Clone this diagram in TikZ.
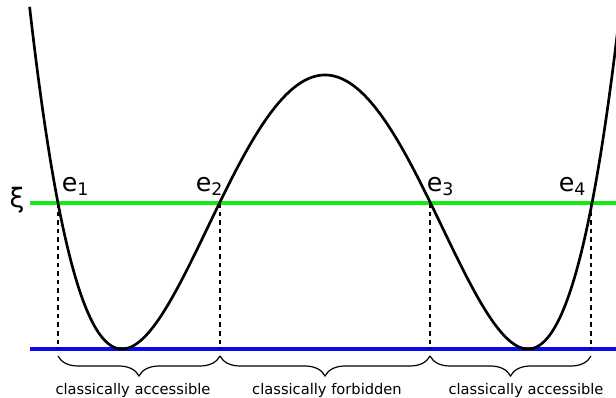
\documentclass[tikz,border=0pt]{standalone}
\usepackage{fontspec}
\setmainfont{DejaVu Sans}
\usetikzlibrary{decorations.pathreplacing}
\definecolor{lvlgreen}{RGB}{20,235,20}
\definecolor{lvlblue}{RGB}{10,10,240}
\begin{document}
\begin{tikzpicture}[x=0.75pt,y=0.75pt,
 curve/.style={line width=2pt, line join=round},
 level/.style={line width=2.4pt},
 drop/.style={line width=1.3pt, dash pattern=on 3.4pt off 3pt},
 brc/.style={decorate, decoration={brace, mirror, amplitude=15pt}, line width=0.9pt},
 lab/.style={font=\fontsize{11}{13}\selectfont, inner sep=0pt, anchor=base},
 elab/.style={anchor=base west, inner sep=0pt, font=\fontsize{19}{20}\selectfont}]
\useasboundingbox (0,0) rectangle (616,398);
\clip (0,0) rectangle (616,398);
% level lines
\coordinate (gl) at (30,195);
\coordinate (gr) at (616,195);
\coordinate (bl) at (30,49);
\coordinate (br) at (616,49);
\draw[level, lvlgreen] (gl) -- (gr);
\draw[level, lvlblue] (bl) -- (br);
% turning points
\coordinate (t1) at (58,195);  \coordinate (b1) at (58,49);
\coordinate (t2) at (220,195); \coordinate (b2) at (220,49);
\coordinate (t3) at (430,195); \coordinate (b3) at (430,49);
\coordinate (t4) at (591,195); \coordinate (b4) at (591,49);
\draw[drop] (t1) -- (b1);
\draw[drop] (t2) -- (b2);
\draw[drop] (t3) -- (b3);
\draw[drop] (t4) -- (b4);
% potential
\draw[curve] plot[domain=-295.4:295.4, samples=300, smooth] ({325+\x}, {49+274*((\x/203)^2-1)^2});
% labels
\node[anchor=base, inner sep=0pt, font=\fontsize{20}{22}\selectfont] (xi) at (17,190) {ξ};
\node[elab] (e1) at (61.6,206) {e{\fontsize{13}{14}\selectfont\raisebox{-2.3pt}{1}}};
\node[elab] (e2) at (195.6,206) {e{\fontsize{13}{14}\selectfont\raisebox{-2.3pt}{2}}};
\node[elab] (e3) at (426.6,206) {e{\fontsize{13}{14}\selectfont\raisebox{-2.3pt}{3}}};
\node[elab] (e4) at (558.6,206) {e{\fontsize{13}{14}\selectfont\raisebox{-2.3pt}{4}}};
% braces
\coordinate (c1) at (58,42);
\coordinate (c2) at (220,42);
\coordinate (c3) at (430,42);
\coordinate (c4) at (591,42);
\draw[brc] (c1) -- (c2);
\draw[brc] (c2) -- (c3);
\draw[brc] (c3) -- (c4);
\node[lab] (l1) at (133,3) {classically accessible};
\node[lab] (l2) at (327,3) {classically forbidden};
\node[lab] (l3) at (526,3) {classically accessible};
\end{tikzpicture}
\end{document}
